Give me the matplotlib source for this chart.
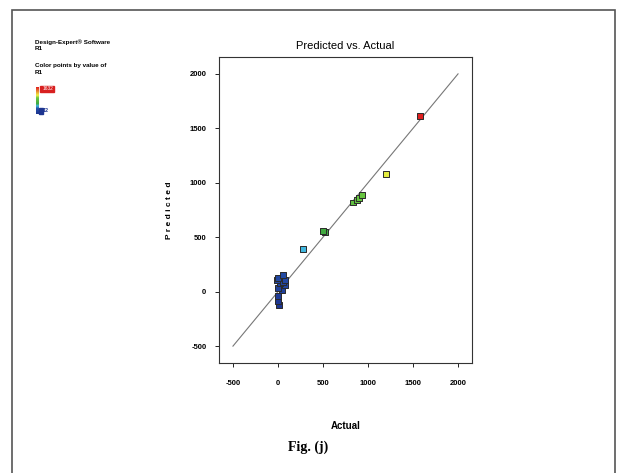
import numpy as np
import matplotlib.pyplot as plt
from matplotlib.colors import LinearSegmentedColormap
from matplotlib.patches import Rectangle

# values
actual = [1578, 1200, 837, 874, 930, 900, 496, 522, 281,
          3, 59, 78, 22, 3, 41, 3, 3, 78, -15, 60, 10]
predicted = [1617, 1080, 819, 844, 884, 860, 560, 548, 392,
             126, 156, 110, 80, 34, 18, -43, -89, 64, 110, 90, -120]
ticks = [-500, 0, 500, 1000, 1500, 2000]
tick_labels = ["-500", "0", "500", "1000", "1500", "2000"]
r1_hi, r1_lo = "1632", "12"

plt.rcParams['font.family'] = ['Liberation Sans Narrow', 'Liberation Sans', 'DejaVu Sans']

cmap = LinearSegmentedColormap.from_list(
    "de", [(0.0, "#1d3590"), (0.2, "#2450a8"), (0.295, "#40b8e0"),
           (0.38, "#3fa840"), (0.6, "#6cc840"), (0.7, "#f0f040"),
           (1.0, "#e02020")])

fig = plt.figure(figsize=(6.17, 4.73), dpi=100)

# page frame
fig.patches.append(Rectangle((12 / 617, -0.02), (615 - 12) / 617, 1 - 10 / 473 + 0.02,
                             transform=fig.transFigure, fill=False,
                             edgecolor="#555555", lw=1.2))

ax = fig.add_axes([219 / 617, 1 - 363 / 473, 253 / 617, 306 / 473])
ax.plot([-500, 2000], [-500, 2000], color="#777777", lw=0.8, zorder=1)
order = np.argsort(predicted)
ax.scatter(np.array(actual)[order], np.array(predicted)[order],
           c=np.array(predicted)[order], cmap=cmap, vmin=-120, vmax=1617,
           marker="s", s=18, edgecolors="#2a2a2a", linewidths=0.7, zorder=2)

ax.set_xlim(-655, 2155)
ax.set_ylim(-655, 2155)
ax.set_xticks(ticks)
ax.set_yticks(ticks)
ax.set_xticklabels(tick_labels, fontsize=5.5, fontweight="bold")
ax.set_yticklabels(tick_labels, fontsize=5.5, fontweight="bold")
ax.tick_params(axis="x", length=3, width=0.6, pad=9)
ax.tick_params(axis="y", length=3, width=0.6, pad=6)
for s in ax.spines.values():
    s.set_linewidth(0.8)
    s.set_color("#333333")

ax.set_title("Predicted vs. Actual", fontsize=8, pad=6)
ax.set_xlabel("Actual", fontsize=7, fontweight="bold", labelpad=25)
ax.set_ylabel("P r e d i c t e d", fontsize=6, fontweight="bold", labelpad=12)

# Design-Expert side legend
fig.text(35 / 617, 1 - 42 / 473, "Design-Expert® Software", fontsize=4.5, fontweight="bold", va="center")
fig.text(35 / 617, 1 - 49 / 473, "R1", fontsize=4.5, fontweight="bold", va="center")
fig.text(35 / 617, 1 - 66 / 473, "Color points by value of", fontsize=4.5, fontweight="bold", va="center")
fig.text(35 / 617, 1 - 73 / 473, "R1", fontsize=4.5, fontweight="bold", va="center")

cax = fig.add_axes([36 / 617, 1 - 114 / 473, 3 / 617, 27 / 473])
cax.imshow(np.linspace(1, 0, 50)[:, None], aspect="auto", cmap=cmap)
cax.axis("off")
fig.patches.append(Rectangle((40 / 617, 1 - 92 / 473), 14 / 617, 6 / 473,
                             transform=fig.transFigure, color="#d82020"))
fig.text(43 / 617, 1 - 89 / 473, r1_hi, fontsize=3.5, color="white", va="center")
fig.patches.append(Rectangle((39 / 617, 1 - 114 / 473), 4 / 617, 6 / 473,
                             transform=fig.transFigure, color="#1d3590"))
fig.text(43 / 617, 1 - 111 / 473, r1_lo, fontsize=4, fontweight="bold",
         color="#1d3590", va="center")

fig.text(0.5, 1 - 447 / 473, "Fig. (j)", fontsize=10, fontweight="bold",
         family=["Liberation Serif", "DejaVu Serif"], ha="center", va="center")

fig.savefig("out.png", dpi=100)
